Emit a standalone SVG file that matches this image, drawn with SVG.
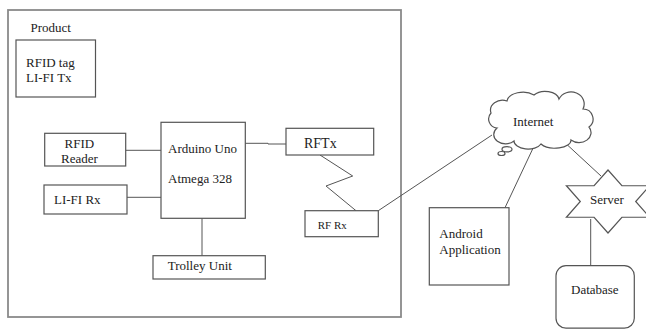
<svg xmlns="http://www.w3.org/2000/svg" width="646" height="330" viewBox="0 0 646 330">
<style>
.box{fill:#fff;stroke:#555;stroke-width:1.2}
.ln{fill:none;stroke:#555;stroke-width:1}
text{font-family:"Liberation Serif","Times New Roman",serif;font-size:13px;fill:#222}
.sm{font-size:11px}
</style>
<rect width="646" height="330" fill="#fff"/>
<g id="product-area">
<rect x="8" y="10" width="393" height="307" fill="none" stroke="#8a8a8a" stroke-width="1.8"/>
<text x="30.5" y="32">Product</text>
</g>
<g id="connectors">
<line class="ln" x1="125.7" y1="150.3" x2="161" y2="150.3"/>
<line class="ln" x1="127" y1="197.3" x2="162" y2="197.3"/>
<polyline class="ln" points="245,143.3 268,143.3 268,144 286,144"/>
<line class="ln" x1="202" y1="218.3" x2="202" y2="255.7"/>
<polyline class="ln" points="320,155 352.7,176 326,186 356,210.7"/>
<line class="ln" x1="378.3" y1="210.7" x2="492" y2="135"/>
<line class="ln" x1="535" y1="144" x2="505" y2="207.7"/>
<line class="ln" x1="562" y1="140" x2="601" y2="176"/>
<line class="ln" x1="590.7" y1="219" x2="590.7" y2="266"/>
</g>
<g id="rfid-tag">
<rect class="box" x="16" y="40" width="79.5" height="57"/>
<text x="26" y="67">RFID tag</text>
<text x="26" y="82">LI-FI Tx</text>
</g>
<g id="rfid-reader">
<rect class="box" x="44.7" y="133.3" width="81" height="32.7"/>
<text x="64.5" y="147.7">RFID</text>
<text x="61" y="162.7">Reader</text>
</g>
<g id="lifi-rx">
<rect class="box" x="44" y="185" width="83" height="29"/>
<text x="54" y="204">LI-FI Rx</text>
</g>
<g id="arduino">
<rect class="box" x="161" y="122.3" width="84.3" height="96"/>
<text x="168" y="152.7">Arduino Uno</text>
<text x="168" y="183">Atmega 328</text>
</g>
<g id="trolley">
<rect class="box" x="153" y="255.7" width="112.3" height="23.3"/>
<text x="167.7" y="270">Trolley Unit</text>
</g>
<g id="rftx">
<rect class="box" x="286" y="128.3" width="87.7" height="26.7"/>
<text x="304" y="147.7" style="font-size:14px">RFTx</text>
</g>
<g id="rfrx">
<rect class="box" x="305" y="210.7" width="73.3" height="26"/>
<text class="sm" x="317.7" y="229.3">RF Rx</text>
</g>
<g id="internet">
<path class="box" d="M497,128 A9,9 0 0 1 491,113 A12,10 0 0 1 507,101 A16,10 0 0 1 534,95 A14,9 0 0 1 559,99 A12,11 0 0 1 583,109 A10,10 0 0 1 589,127 A12,10 0 0 1 571,140 A16,8 0 0 1 541,144 A14,8 0 0 1 514,141 A10,8 0 0 1 497,128 Z"/>
<ellipse class="box" cx="507" cy="149.3" rx="5" ry="2.6"/>
<ellipse class="box" cx="501.5" cy="153.5" rx="3.5" ry="2"/>
<text x="513" y="126">Internet</text>
</g>
<g id="android">
<rect class="box" x="429.3" y="207.7" width="79.7" height="77.3"/>
<text x="439.3" y="238.3">Android</text>
<text x="439.3" y="254">Application</text>
</g>
<g id="server">
<path class="box" d="M608,170 L621.9,185.75 L649.6,185.75 L635.7,201.5 L649.6,217.25 L621.9,217.25 L608,233 L594.1,217.25 L566.4,217.25 L580.3,201.5 L566.4,185.75 L594.1,185.75 Z"/>
<text x="590" y="204">Server</text>
</g>
<g id="database">
<rect class="box" x="556" y="265.7" width="78.3" height="62.5" rx="10" ry="10"/>
<text x="571" y="294.3">Database</text>
</g>
</svg>
